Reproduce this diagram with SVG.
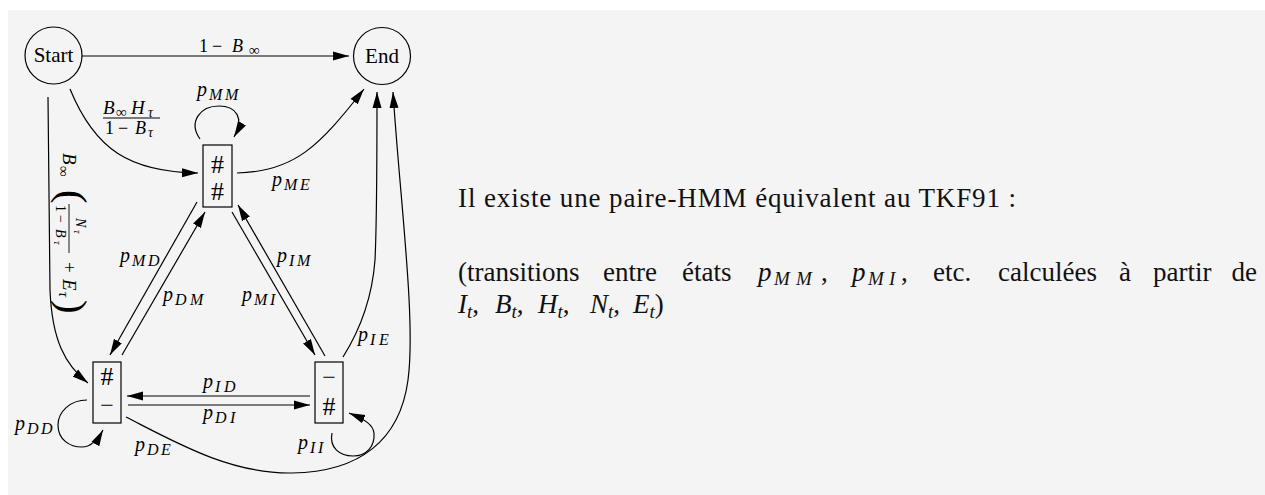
<svg xmlns="http://www.w3.org/2000/svg" width="1265" height="495" viewBox="0 0 1265 495">
<style>
.bg{fill:#f4f4f4}
.n{fill:none;stroke:#000;stroke-width:1.2}
.e{fill:none;stroke:#000;stroke-width:1.2;marker-end:url(#ah)}
text{font-family:"Liberation Serif","Times New Roman",serif;fill:#000}
.lab{font-size:20px;font-style:italic}
.sub{font-size:16px;font-style:italic}
.rm{font-style:normal}
.it{font-style:italic}
.nm{font-size:21px}
.sym{font-size:26px}
.mn{font-size:24px}
.txt{font-size:27px;fill:#111}
.mt{font-size:27px;font-style:italic;fill:#111}
.mts{font-size:19px;font-style:italic}
</style>
<defs>
<marker id="ah" markerUnits="userSpaceOnUse" markerWidth="16" markerHeight="10" viewBox="0 0 16 10" refX="16" refY="5" orient="auto">
<path d="M0,0.5 L16,5 L0,9.5 z" fill="#000"/>
</marker>
</defs>
<rect class="bg" x="8" y="10" width="1257" height="485"/>

<g id="connectors">
<path class="e" d="M82,56 L349,56"/>
<path class="e" d="M70,89 C95,150 130,172 198,173"/>
<path class="e" d="M237,173 C295,172 320,145 364,89"/>
<path class="e" d="M200,139 C188,122 200,106 219,106 C236,106 245,118 234,137"/>
<path class="e" d="M197,202 L110,355"/>
<path class="e" d="M122,355 L205,212"/>
<path class="e" d="M232,212 L315,355"/>
<path class="e" d="M325,356 L238,205"/>
<path class="e" d="M128,405 L310,405"/>
<path class="e" d="M310,396 L127,396"/>
<path class="e" d="M87,400 C70,400 58,412 58,425 C58,440 70,447 82,447 C90,447 97,441 103,430"/>
<path class="e" d="M332,433 C329,448 340,456 353,456 C367,456 375,446 374,433 C373,425 366,420 349,413"/>
<path class="e" d="M126,417 C175,442 230,474 292,473 C360,472 400,440 408,380 C416,320 400,200 393,92"/>
<path class="e" d="M343,357 C360,330 372,300 375,260 C377,220 377,150 377,92"/>
<path class="e" d="M48,97 L50,290 C52,340 65,365 88,383"/>

<text x="199" y="52" font-size="18">1<tspan x="212">−</tspan><tspan class="it" x="232">B</tspan><tspan font-size="15" x="249" dy="3">∞</tspan></text>
<text x="103" y="114" font-size="19" class="it">B<tspan font-size="15" x="116" dy="3">∞</tspan><tspan x="131" dy="-3">H</tspan><tspan font-size="14" x="148" dy="3">τ</tspan></text>
<line x1="103" y1="118" x2="160" y2="118" stroke="#000" stroke-width="1"/>
<text x="105" y="134" font-size="18">1<tspan x="118">−</tspan><tspan class="it" x="135">B</tspan><tspan font-size="14" class="it" x="148" dy="3">τ</tspan></text>

<g transform="translate(63,153) rotate(90)">
<text x="0" y="0" font-size="19" class="it">B<tspan font-size="15" x="13" dy="4">∞</tspan></text>
<text x="37" y="3.7" font-size="41">(</text>
<text x="65" y="-13" font-size="14" class="it">N<tspan font-size="10" x="77" dy="2">τ</tspan></text>
<line x1="51" y1="-6" x2="100" y2="-6" stroke="#000" stroke-width="0.9"/>
<text x="52" y="7" font-size="14">1<tspan x="62">−</tspan><tspan class="it" x="76">B</tspan><tspan font-size="10" class="it" x="88" dy="2">τ</tspan></text>
<text x="109" y="0" font-size="19">+</text>
<text x="126" y="0" font-size="19" class="it">E<tspan font-size="14" x="139" dy="4">τ</tspan></text>
<text x="147" y="3.7" font-size="41">)</text>
</g>

<text class="lab" x="197" y="96">p<tspan class="sub" x="209 225" dy="4">MM</tspan></text>
<text class="lab" x="272" y="186">p<tspan class="sub" x="284 300" dy="4">ME</tspan></text>
<text class="lab" x="120" y="262">p<tspan class="sub" x="132 148" dy="4">MD</tspan></text>
<text class="lab" x="163" y="301">p<tspan class="sub" x="175 190" dy="4">DM</tspan></text>
<text class="lab" x="277" y="262">p<tspan class="sub" x="289 297" dy="4">IM</tspan></text>
<text class="lab" x="242" y="301">p<tspan class="sub" x="254 270" dy="4">MI</tspan></text>
<text class="lab" x="358" y="341">p<tspan class="sub" x="370 379" dy="4">IE</tspan></text>
<text class="lab" x="203" y="388">p<tspan class="sub" x="215 224" dy="4">ID</tspan></text>
<text class="lab" x="203" y="419">p<tspan class="sub" x="215 230" dy="4">DI</tspan></text>
<text class="lab" x="15" y="430">p<tspan class="sub" x="27 41" dy="4">DD</tspan></text>
<text class="lab" x="135" y="451">p<tspan class="sub" x="147 161" dy="4">DE</tspan></text>
<text class="lab" x="298" y="449">p<tspan class="sub" x="310 318" dy="4">II</tspan></text>
</g>

<g id="node-start">
<circle class="n" cx="53.5" cy="55.5" r="28.5"/>
<text class="nm" x="53.5" y="62" text-anchor="middle">Start</text>
</g>
<g id="node-end">
<circle class="n" cx="382" cy="56" r="28.5"/>
<text class="nm" x="382" y="62.5" text-anchor="middle">End</text>
</g>
<g id="node-M">
<rect class="n" x="203" y="145" width="29" height="62"/>
<text class="sym" x="217.5" y="173" text-anchor="middle">#</text>
<text class="sym" x="217.5" y="200" text-anchor="middle">#</text>
</g>
<g id="node-D">
<rect class="n" x="93" y="362" width="28" height="61"/>
<text class="sym" x="107" y="385" text-anchor="middle">#</text>
<text class="mn" x="107" y="413" text-anchor="middle">−</text>
</g>
<g id="node-I">
<rect class="n" x="315" y="362" width="28" height="61"/>
<text class="mn" x="329" y="385" text-anchor="middle">−</text>
<text class="sym" x="329" y="415" text-anchor="middle">#</text>
</g>

<g id="description">
<text class="txt" x="458" y="207" textLength="558" lengthAdjust="spacing">Il existe une paire-HMM équivalent au TKF91 :</text>
<text class="txt" x="458" y="281">(transitions</text>
<text class="txt" x="603" y="281">entre</text>
<text class="txt" x="682" y="281">états</text>
<text class="mt" x="758" y="281">p<tspan class="mts" x="774 796" dy="4">MM</tspan></text>
<text class="txt" x="821" y="281">,</text>
<text class="mt" x="852" y="281">p<tspan class="mts" x="868 889" dy="4">MI</tspan></text>
<text class="txt" x="901" y="281">,</text>
<text class="txt" x="933" y="281">etc.</text>
<text class="txt" x="998" y="281">calculées</text>
<text class="txt" x="1119" y="281">à</text>
<text class="txt" x="1153" y="281">partir</text>
<text class="txt" x="1257" y="281" text-anchor="end">de</text>
<text class="mt" x="458" y="313">I<tspan class="mts" dy="5">t</tspan><tspan class="rm" dy="-5">,</tspan></text>
<text class="mt" x="495" y="313">B<tspan class="mts" dy="5">t</tspan><tspan class="rm" dy="-5">,</tspan></text>
<text class="mt" x="538" y="313">H<tspan class="mts" dy="5">t</tspan><tspan class="rm" dy="-5">,</tspan></text>
<text class="mt" x="590" y="313">N<tspan class="mts" dy="5">t</tspan><tspan class="rm" dy="-5">,</tspan></text>
<text class="mt" x="633" y="313">E<tspan class="mts" dy="5">t</tspan><tspan class="rm" dy="-5">)</tspan></text>
</g>
</svg>
